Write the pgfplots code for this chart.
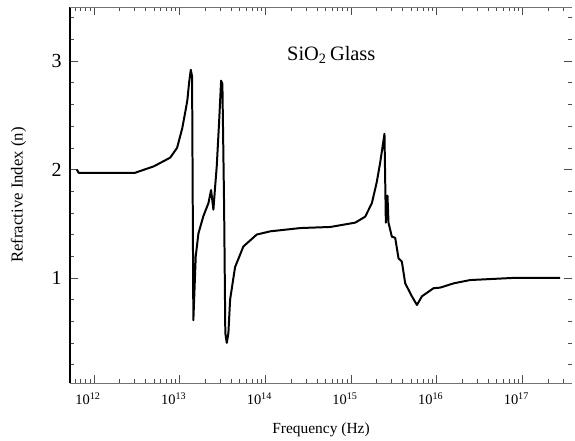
\documentclass[border=0pt]{standalone}
\usepackage{fontspec}
\setmainfont{Liberation Serif}
\usepackage{pgfplots}
\pgfplotsset{compat=1.18}

% Refractive index of fused silica; x column is log10 of the frequency in Hz
\pgfplotstableread{
lf      n
11.80   2.00
11.82   1.97
12.00   1.97
12.48   1.97
12.70   2.03
12.89   2.11
12.97   2.20
13.03   2.38
13.07   2.55
13.09   2.64
13.11   2.80
13.13   2.92
13.145  2.86
13.16   0.61
13.188  1.20
13.219  1.41
13.277  1.57
13.336  1.69
13.367  1.81
13.394  1.63
13.414  1.84
13.433  2.03
13.46   2.43
13.484  2.82
13.499  2.79
13.519  1.66
13.533  0.49
13.55   0.40
13.569  0.49
13.589  0.80
13.647  1.10
13.744  1.29
13.90   1.40
14.06   1.43
14.41   1.46
14.76   1.47
15.05   1.51
15.166  1.565
15.244  1.69
15.30   1.88
15.34   2.06
15.38   2.27
15.391  2.33
15.407  1.51
15.426  1.76
15.438  1.51
15.477  1.38
15.516  1.37
15.555  1.18
15.594  1.15
15.633  0.95
15.711  0.83
15.77   0.75
15.828  0.83
15.964  0.905
16.04   0.91
16.20   0.95
16.39   0.98
16.90   1.00
17.44   1.00
}\silica

\begin{document}
\begin{tikzpicture}
\begin{axis}[
  scale only axis,
  width=502bp, height=376bp,
  xmin=11.72, xmax=17.58,
  ymin=0.03, ymax=3.5,
  axis line style={draw=none},
  xtick={12,13,14,15,16,17},
  xticklabels={10\textsuperscript{12},10\textsuperscript{13},10\textsuperscript{14},10\textsuperscript{15},10\textsuperscript{16},10\textsuperscript{17}},
  minor xtick={11.778,11.845,11.903,11.954,
    12.301,12.477,12.602,12.699,12.778,12.845,12.903,12.954,
    13.301,13.477,13.602,13.699,13.778,13.845,13.903,13.954,
    14.301,14.477,14.602,14.699,14.778,14.845,14.903,14.954,
    15.301,15.477,15.602,15.699,15.778,15.845,15.903,15.954,
    16.301,16.477,16.602,16.699,16.778,16.845,16.903,16.954,
    17.301,17.477},
  ytick={1,2,3},
  yticklabels={1,2,3},
  minor ytick={0.2,0.4,0.6,0.8,1.2,1.4,1.6,1.8,2.2,2.4,2.6,2.8,3.2,3.4},
  tick align=inside,
  major tick length=8bp, minor tick length=4bp,
  every tick/.style={black!70, line width=0.7pt},
  xticklabel style={font=\fontsize{14.5}{14.5}\selectfont, yshift=-6bp, xshift=-6bp},
  yticklabel style={font=\fontsize{20}{20}\selectfont, xshift=-5bp},
  xlabel={Frequency (Hz)},
  ylabel={Refractive Index (n)},
  xlabel style={font=\fontsize{15.5}{16}\selectfont, at={(axis description cs:0.5,-0.125)}, anchor=center},
  ylabel style={font=\fontsize{16.8}{17}\selectfont, at={(axis description cs:-0.1026,0.5)}, anchor=center},
  clip=false,
]
  \draw[black, line width=1.1pt] (rel axis cs:0,0) -- (rel axis cs:0,1);
  \draw[black!55, line width=0.7pt] (rel axis cs:0,0) -- (rel axis cs:1,0);
  \draw[black!55, line width=0.7pt] (rel axis cs:0,1) -- (rel axis cs:1,1);

  \addplot[black, line width=2pt, line join=round] table[x=lf, y=n] {\silica};

  \node[font=\fontsize{20.5}{21}\selectfont] at (axis cs:14.77,3.06) {SiO\textsubscript{2}\,Glass};

  \coordinate (sw) at (rel axis cs:0,0);
  \coordinate (ne) at (rel axis cs:1,1);
\end{axis}
\pgfresetboundingbox
\path ([shift={(-70bp,-58bp)}]sw) rectangle ([shift={(3bp,7bp)}]ne);
\end{tikzpicture}
\end{document}
